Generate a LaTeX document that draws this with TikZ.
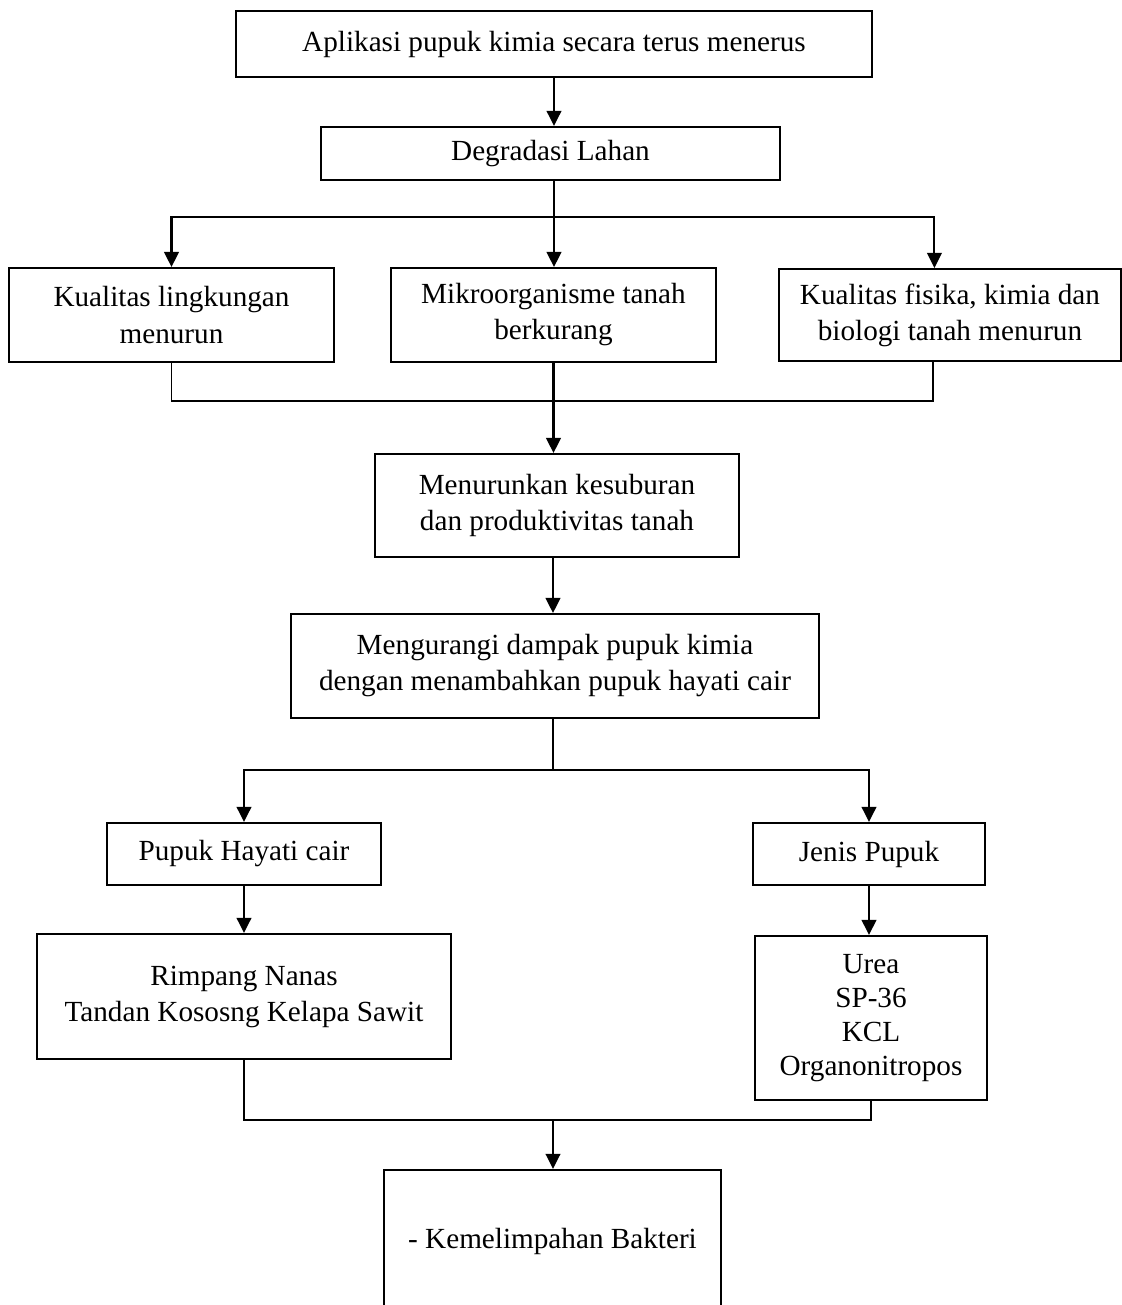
\documentclass[tikz,border=0pt]{standalone}
\usepackage{fontspec}
\setmainfont{Liberation Serif}
\usetikzlibrary{arrows.meta, positioning}

\begin{document}
\begin{tikzpicture}[x=0.411pt, y=-0.411pt,
    box/.style={draw, line width=0.85pt, align=center, inner sep=0pt,
        font=\fontsize{12}{14.8}\selectfont},
    arr/.style={-{Triangle[length=6.2pt,width=6pt]}, line width=0.85pt},
    lnk/.style={line width=0.45pt}]
\clip (0,0) rectangle (1122,1305);
% Boxes
\node[box, minimum width=261.4pt, minimum height=27.1pt] (app) at (554,44) {Aplikasi pupuk kimia secara terus menerus};
\node[box, minimum width=188.6pt, minimum height=21.8pt] (deg) at (550.5,153.5) {Degradasi Lahan};
\node[box, minimum width=133.6pt, minimum height=38.6pt] (kual) at (171.5,315) {Kualitas lingkungan\\menurun};
\node[box, minimum width=133.6pt, minimum height=38.6pt] (mikro) at (553.5,315) {Mikroorganisme tanah\\berkurang};
\node[box, minimum width=140.6pt, minimum height=37.8pt] (fisika) at (950,315) {Kualitas fisika, kimia dan\\biologi tanah menurun};
\node[box, minimum width=149.6pt, minimum height=42.3pt] (menur) at (557,505.5) {Menurunkan kesuburan\\dan produktivitas tanah};
\node[box, minimum width=217pt, minimum height=42.7pt] (meng) at (555,666) {Mengurangi dampak pupuk kimia\\dengan menambahkan pupuk hayati cair};
\node[box, minimum width=112.6pt, minimum height=25.5pt] (hayati) at (244,854) {Pupuk Hayati cair};
\node[box, minimum width=95.4pt, minimum height=25.5pt] (jenis) at (869,854) {Jenis Pupuk};
\node[box, minimum width=170.2pt, minimum height=51.4pt] (rimpang) at (244,996.5) {Rimpang Nanas\\Tandan Kososng Kelapa Sawit};
\node[box, minimum width=95.4pt, minimum height=67.4pt, font=\fontsize{12}{14}\selectfont] (urea) at (871,1018) {Urea\\SP-36\\KCL\\Organonitropos};
\node[box, minimum width=138.5pt, minimum height=58.4pt] (bakteri) at (552.5,1241) {- Kemelimpahan Bakteri};
% Split and join points
\coordinate (s1) at (554,217);
\coordinate (j1) at (553,401);
\coordinate (s2) at (553,770);
\coordinate (j2) at (553,1120);
% Connectors
\draw[arr] (app.south) -- (app.south |- deg.north);
\draw[lnk] (deg.south -| s1) -- (s1);
\draw[arr] (s1) -| (kual.north);
\draw[arr] (s1) -- (s1 |- mikro.north);
\draw[arr] (s1) -| ([xshift=-6.4pt]fisika.north);
\draw[lnk] (kual.south) |- (j1) -| ([xshift=-7pt]fisika.south);
\draw[arr] (mikro.south) -- (mikro.south |- menur.north);
\draw[arr] (menur.south -| j1) -- (j1 |- meng.north);
\draw[lnk] (meng.south -| s2) -- (s2);
\draw[arr] (s2) -| (hayati.north);
\draw[arr] (s2) -| (jenis.north);
\draw[arr] (hayati.south) -- (hayati.south |- rimpang.north);
\draw[arr] (jenis.south) -- (jenis.south |- urea.north);
\draw[lnk] (rimpang.south) |- (j2) -| (urea.south);
\draw[arr] (j2) -- (j2 |- bakteri.north);
\end{tikzpicture}
\end{document}
